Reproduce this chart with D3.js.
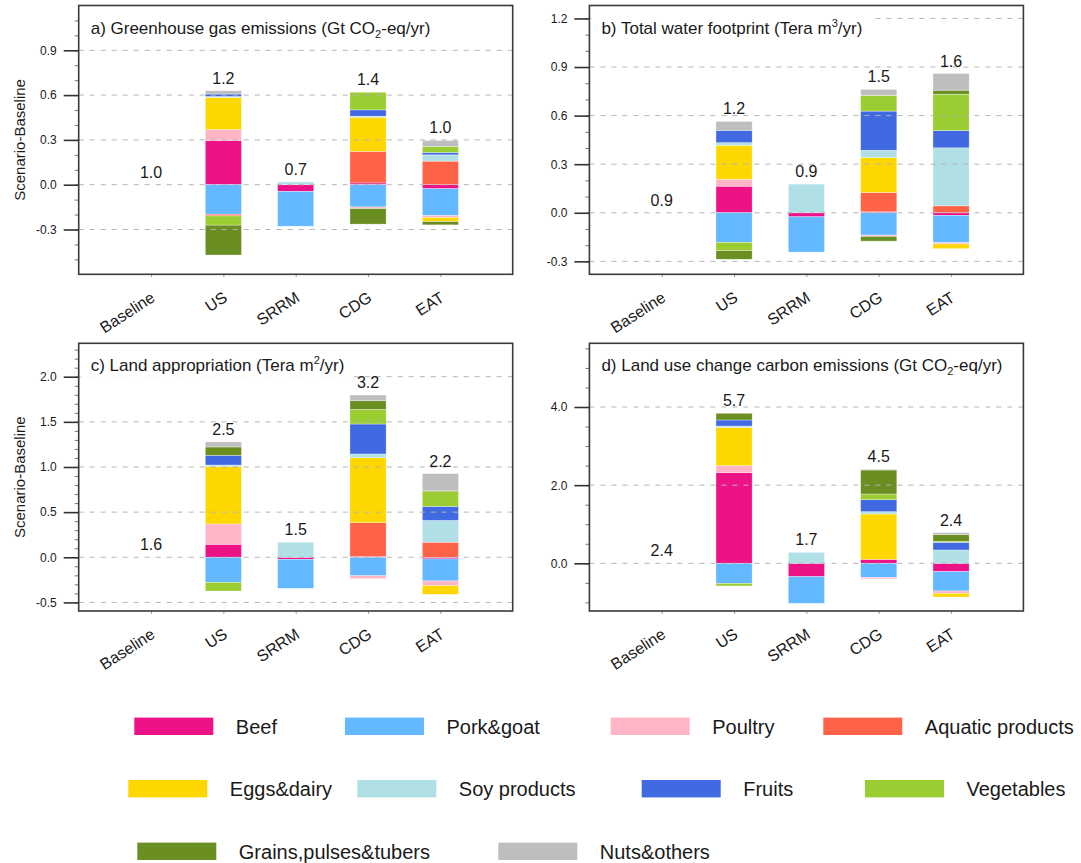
<!DOCTYPE html>
<html>
<head>
<meta charset="utf-8">
<script src="https://cdn.jsdelivr.net/npm/d3@7"></script>
<style>
  body { margin: 0; background: #fff; }
  svg { display: block; }
  text { font-family: "Liberation Sans", Arial, Helvetica, sans-serif; fill: #1a1a1a; }
</style>
</head>
<body>
<svg id="chart" width="1081" height="863"></svg>
<script>
// ---- data -------------------------------------------------------------
const scenarios = ["Baseline", "US", "SRRM", "CDG", "EAT"];
const foodGroups = ["Beef", "Pork&goat", "Poultry", "Aquatic products", "Eggs&dairy",
  "Soy products", "Fruits", "Vegetables", "Grains,pulses&tubers", "Nuts&others"];
const groupColors = ["#EE1289", "#63B8FF", "#FFB5C5", "#FF6347", "#FFD700",
  "#B0E0E6", "#4169E1", "#9ACD32", "#6B8E23", "#BEBEBE"];

// Scenario minus baseline; one row per scenario, columns follow foodGroups
const ghgChange = [
  [0, 0, 0, 0, 0, 0, 0, 0, 0, 0],
  [0.296, -0.198, 0.073, -0.011, 0.216, 0.006, 0.016, -0.062, -0.200, 0.022],
  [-0.045, -0.233, 0, 0, 0, 0.018, 0, 0, 0, 0],
  [0.012, -0.149, -0.011, 0.211, 0.229, 0.007, 0.042, 0.118, -0.104, 0],
  [-0.027, -0.180, -0.013, 0.158, -0.027, 0.042, 0.016, 0.040, -0.022, 0.040]
];
const ghgTotals = ["1.0", "1.2", "0.7", "1.4", "1.0"];

const waterChange = [
  [0, 0, 0, 0, 0, 0, 0, 0, 0, 0],
  [0.164, -0.183, 0.043, 0, 0.210, 0.016, 0.076, -0.051, -0.053, 0.055],
  [-0.025, -0.218, 0, 0, 0, 0.177, 0, 0, 0, 0],
  [0.006, -0.138, -0.008, 0.119, 0.216, 0.045, 0.242, 0.097, -0.029, 0.037],
  [-0.016, -0.169, -0.008, 0.043, -0.029, 0.358, 0.107, 0.224, 0.025, 0.103]
];
const waterTotals = ["0.9", "1.2", "0.9", "1.5", "1.6"];

const landChange = [
  [0, 0, 0, 0, 0, 0, 0, 0, 0, 0],
  [0.144, -0.278, 0.226, 0, 0.637, 0.015, 0.107, -0.096, 0.093, 0.056],
  [-0.022, -0.322, 0, 0, 0, 0.167, 0, 0, 0, 0],
  [0.007, -0.205, -0.030, 0.376, 0.720, 0.041, 0.332, 0.162, 0.096, 0.063],
  [-0.018, -0.244, -0.052, 0.167, -0.096, 0.241, 0.156, 0.163, 0.015, 0.185]
];
const landTotals = ["1.6", "2.5", "1.5", "3.2", "2.2"];

const lucChange = [
  [0, 0, 0, 0, 0, 0, 0, 0, 0, 0],
  [2.320, -0.512, 0.179, 0, 0.981, 0.034, 0.154, -0.068, 0.171, 0],
  [-0.341, -0.682, 0, 0, 0, 0.281, 0, 0, 0, 0],
  [0.102, -0.358, -0.040, 0, 1.160, 0.060, 0.307, 0.145, 0.614, 0.017],
  [-0.213, -0.495, -0.060, 0, -0.094, 0.341, 0.196, 0.026, 0.171, 0.050]
];
const lucTotals = ["2.4", "5.7", "1.7", "4.5", "2.4"];

const ghgTicks = [-0.3, 0, 0.3, 0.6, 0.9];
const waterTicks = [-0.3, 0, 0.3, 0.6, 0.9, 1.2];
const landTicks = [-0.5, 0, 0.5, 1.0, 1.5, 2.0];
const lucTicks = [0, 2, 4];

// ---- layout -----------------------------------------------------------
const svg = d3.select("#chart");
const FONT = '"Liberation Sans", Arial, Helvetica, sans-serif';

const panels = [
  { rows: ghgChange, totals: ghgTicks && ghgTotals, ticks: ghgTicks, minorStep: 0.1,
    domain: [-0.6, 1.2], box: [78.7, 5.5, 512.7, 274.3], yTitle: true,
    title: [["a) Greenhouse gas emissions (Gt CO"], ["2", "sub"], ["-eq/yr)"]] },
  { rows: waterChange, totals: waterTotals, ticks: waterTicks, minorStep: 0.1,
    domain: [-0.38, 1.28], box: [589.4, 5.5, 1023.4, 274.3], yTitle: false,
    title: [["b) Total water footprint (Tera m"], ["3", "sup"], ["/yr)"]] },
  { rows: landChange, totals: landTotals, ticks: landTicks, minorStep: 0.1,
    domain: [-0.595, 2.37], box: [78.7, 343.3, 512.7, 611], yTitle: true,
    title: [["c) Land appropriation (Tera m"], ["2", "sup"], ["/yr)"]] },
  { rows: lucChange, totals: lucTotals, ticks: lucTicks, minorStep: 0.5,
    domain: [-1.22, 5.63], box: [589.4, 343.3, 1023.4, 611], yTitle: false,
    title: [["d) Land use change carbon emissions (Gt CO"], ["2", "sub"], ["-eq/yr)"]] }
];

const stack = d3.stack()
  .keys(d3.range(foodGroups.length))
  .value((row, k) => row[k])
  .offset(d3.stackOffsetDiverging);

panels.forEach(p => {
  const [x0, y0, x1, y1] = p.box;
  const g = svg.append("g");
  const x = d3.scaleLinear().domain([-1, scenarios.length]).range([x0, x1]);
  const y = d3.scaleLinear().domain(p.domain).range([y1, y0]);
  const barW = (x(1) - x(0)) * 0.5;

  // stacked bars
  const series = stack(p.rows);
  g.append("g").selectAll("g").data(series).join("g")
    .attr("fill", s => groupColors[s.key])
    .selectAll("rect").data(s => s.filter(d => d[1] !== d[0]).map(d => ({ d, i: s.indexOf(d) })))
    .join("rect")
    .attr("x", o => x(o.i) - barW / 2)
    .attr("width", barW)
    .attr("y", o => y(Math.max(o.d[0], o.d[1])))
    .attr("height", o => Math.abs(y(o.d[0]) - y(o.d[1])))
    .attr("stroke", "#ffffff").attr("stroke-opacity", 0.55).attr("stroke-width", 0.6);

  // dashed reference lines at the labelled ticks
  g.append("g").selectAll("line").data(p.ticks).join("line")
    .attr("x1", x0).attr("x2", x1)
    .attr("y1", d => y(d)).attr("y2", d => y(d))
    .attr("stroke", "#b4b4b4").attr("stroke-width", 1)
    .attr("stroke-dasharray", "5,6");

  // scenario totals above each stack
  g.append("g").selectAll("text").data(p.rows).join("text")
    .attr("x", (r, i) => x(i))
    .attr("y", r => y(d3.sum(r.filter(v => v > 0))) - 7)
    .attr("text-anchor", "middle")
    .attr("font-size", 16)
    .text((r, i) => p.totals[i]);

  // title with white backing
  const title = g.append("text")
    .attr("x", x0 + 12).attr("y", y0 + 28)
    .attr("font-size", 17);
  p.title.forEach(([str, kind]) => {
    const t = title.append("tspan").text(str);
    if (kind === "sub") t.attr("font-size", 11).attr("dy", 4);
    else if (kind === "sup") t.attr("font-size", 11).attr("dy", -7);
    else if (kind === undefined && str !== p.title[0][0]) t.attr("dy", null);
  });
  // restore baseline after shifted segments
  title.selectAll("tspan").each(function (_, i, nodes) {
    const kind = p.title[i][1];
    if (i > 0 && !kind) {
      const prev = p.title[i - 1][1];
      if (prev === "sub") d3.select(this).attr("dy", -4);
      if (prev === "sup") d3.select(this).attr("dy", 7);
    }
  });
  const bb = title.node().getBBox();
  g.insert("rect", () => title.node())
    .attr("x", x0 + 2).attr("y", y0 + 2)
    .attr("width", bb.x + bb.width + 9 - (x0 + 2))
    .attr("height", bb.y + bb.height + 2 - (y0 + 2))
    .attr("fill", "#fff");

  // y axis: long major ticks, short minor ticks
  const minor = d3.range(Math.ceil(p.domain[0] / p.minorStep), Math.floor(p.domain[1] / p.minorStep) + 1)
    .map(k => +(k * p.minorStep).toFixed(3));
  g.append("g").attr("transform", `translate(${x0},0)`)
    .call(d3.axisLeft(y).tickValues(minor).tickSize(4).tickFormat(""))
    .call(a => a.select(".domain").remove())
    .call(a => a.selectAll("line").attr("stroke", "#555").attr("stroke-width", 0.8));
  g.append("g").attr("transform", `translate(${x0},0)`)
    .call(d3.axisLeft(y).tickValues(p.ticks).tickSize(15).tickPadding(7)
      .tickFormat(d => d.toFixed(1)))
    .call(a => a.select(".domain").remove())
    .call(a => a.selectAll("line").attr("stroke", "#333").attr("stroke-width", 1.6))
    .call(a => a.selectAll("text").attr("font-size", 12).attr("font-family", FONT).attr("fill", "#333"));

  // x axis: small ticks and slanted scenario names
  g.append("g").attr("transform", `translate(0,${y1})`)
    .call(d3.axisBottom(x).tickValues(d3.range(scenarios.length)).tickSize(3).tickFormat(""))
    .call(a => a.select(".domain").remove())
    .call(a => a.selectAll("line").attr("stroke", "#888").attr("stroke-width", 0.8));
  g.append("g").selectAll("text").data(scenarios).join("text")
    .attr("transform", (s, i) => `translate(${x(i) + 5},${y1 + 26}) rotate(-33)`)
    .attr("text-anchor", "end")
    .attr("font-size", 16)
    .text(s => s);

  // frame
  g.append("rect")
    .attr("x", x0).attr("y", y0).attr("width", x1 - x0).attr("height", y1 - y0)
    .attr("fill", "none").attr("stroke", "#3a3a3a").attr("stroke-width", 1.6);

  if (p.yTitle) {
    g.append("text")
      .attr("transform", `translate(25,${(y0 + y1) / 2}) rotate(-90)`)
      .attr("text-anchor", "middle")
      .attr("font-size", 15)
      .text("Scenario-Baseline");
  }
});

// ---- legend -----------------------------------------------------------
const legendRows = [
  { y: 726.3, items: [0, 1, 2, 3], xs: [134.3, 345, 610.7, 823.3] },
  { y: 788.7, items: [4, 5, 6, 7], xs: [128.3, 357.3, 641.7, 865] },
  { y: 851.3, items: [8, 9], xs: [137.3, 498.3] }
];
const legend = svg.append("g");
legendRows.forEach(row => {
  row.items.forEach((k, j) => {
    const lx = row.xs[j];
    legend.append("rect")
      .attr("x", lx).attr("y", row.y - 8.7)
      .attr("width", 79).attr("height", 17.4)
      .attr("fill", groupColors[k]);
    legend.append("text")
      .attr("x", lx + 79 + 22.5).attr("y", row.y + 7.5)
      .attr("font-size", 20)
      .text(foodGroups[k]);
  });
});
</script>
</body>
</html>
